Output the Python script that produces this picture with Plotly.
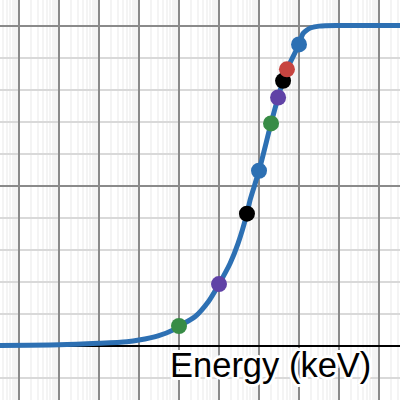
import plotly.graph_objects as go

# Curve (energy in keV, normalized response)
curve_energy = [3.35e-5, 0.001, 0.01, 0.05, 0.1, 0.3, 0.7, 1, 2.5, 5.4, 10, 19, 30,
                50, 60, 100, 200, 300, 400, 500, 1000, 1260, 1580, 2000, 3200, 10000, 3.35e5]
curve_value = [0.0, 0.002, 0.007, 0.012, 0.017, 0.030, 0.048, 0.061, 0.090, 0.137, 0.192,
               0.257, 0.319, 0.412, 0.455, 0.546, 0.694, 0.775, 0.827, 0.863, 0.941,
               0.975, 0.986, 0.993, 0.998, 1.0, 1.0]

# Highlighted points
point_energy = [1, 10, 50, 100, 200, 300, 400, 500, 1000]
point_value = [0.061, 0.192, 0.412, 0.546, 0.694, 0.775, 0.827, 0.863, 0.941]
point_color = ["#388c46", "#6042a6", "#000000", "#2d70b3", "#388c46",
               "#6042a6", "#000000", "#c74440", "#2d70b3"]

x_label = "Energy (keV)"

fig = go.Figure()
fig.add_trace(go.Scatter(
    x=curve_energy, y=curve_value, mode="lines",
    line=dict(color="#2d70b3", width=5, shape="spline", smoothing=0.8),
    hoverinfo="skip", showlegend=False))
fig.add_trace(go.Scatter(
    x=point_energy, y=point_value, mode="markers",
    marker=dict(color=point_color, size=16, line=dict(width=0)),
    showlegend=False))

fig.update_layout(
    width=400, height=400,
    margin=dict(l=0, r=0, t=0, b=0),
    paper_bgcolor="white", plot_bgcolor="white",
    xaxis=dict(type="log", range=[-4.475, 5.525], dtick=1,
               showticklabels=False, ticks="",
               showgrid=True, gridcolor="#8a8a8a", gridwidth=1.8,
               minor=dict(dtick="D1", showgrid=True, gridcolor="#f4f4f4", gridwidth=2, ticks=""),
               zeroline=False, showline=False, fixedrange=True),
    yaxis=dict(range=[-0.1703, 1.0797], dtick=0.5, tick0=0,
               showticklabels=False, ticks="",
               showgrid=True, gridcolor="#8a8a8a", gridwidth=1.8,
               minor=dict(dtick=0.1, tick0=0, showgrid=True, gridcolor="#d9d9d9", gridwidth=1.6, ticks=""),
               zeroline=True, zerolinecolor="#000000", zerolinewidth=2.2,
               showline=False, fixedrange=True),
    annotations=[dict(
        text=x_label, xref="paper", yref="paper",
        x=373 / 400, y=(400 - 365) / 400, xanchor="right", yanchor="middle",
        showarrow=False,
        font=dict(family="Liberation Sans, Arial, sans-serif", size=34.5, color="black",
                  shadow="-2px -2px 0 #fff, 2px -2px 0 #fff, -2px 2px 0 #fff, 2px 2px 0 #fff, 0 -3px 0 #fff, 0 3px 0 #fff, -3px 0 0 #fff, 3px 0 0 #fff"),
    )],
)

fig.write_html("out.html", config={"displayModeBar": False},
               post_script="document.body.style.margin='0';document.body.style.overflow='hidden';")
